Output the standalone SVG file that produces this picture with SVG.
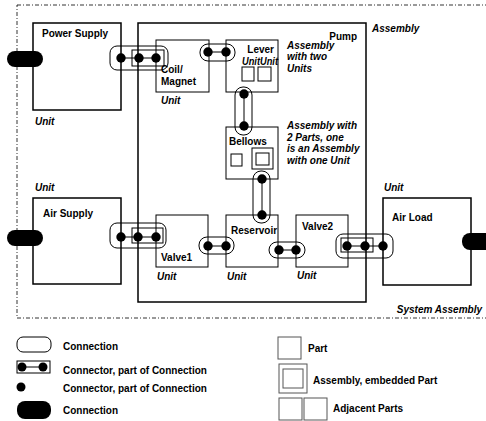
<svg xmlns="http://www.w3.org/2000/svg" width="486" height="421" viewBox="0 0 486 421">
<style>
text{font-family:"Liberation Sans",Arial,sans-serif;font-size:10px;font-weight:bold;fill:#000}
.it{font-style:italic}
.unit{fill:#fff;stroke:#000;stroke-width:1.5}
.part{fill:#fff;stroke:#000;stroke-width:1}
.conn{fill:none;stroke:#000;stroke-width:1}
.pill{fill:#000;stroke:none}
.dot{fill:#000}
.wire{stroke:#000;stroke-width:1;fill:none}
.sys{fill:none;stroke:#000;stroke-width:0.8;stroke-dasharray:4 2 1 2}
.leg{fill:#fff;stroke:#555;stroke-width:1}
</style>
<rect x="0" y="0" width="486" height="421" fill="#fff"/>
<g id="system-assembly">
<rect class="sys" x="17" y="5" width="480" height="313"/>
<text class="it" x="482" y="313" text-anchor="end">System Assembly</text>
</g>
<g id="power-supply">
<rect class="unit" x="33" y="23" width="88" height="87"/>
<text x="42" y="37">Power Supply</text>
<text class="it" x="35" y="125">Unit</text>
</g>
<g id="air-supply">
<rect class="unit" x="33" y="198" width="88" height="86"/>
<text x="43" y="217">Air Supply</text>
<text class="it" x="35" y="191">Unit</text>
</g>
<g id="air-load">
<rect class="unit" x="383" y="198" width="88" height="87"/>
<text x="392" y="221">Air Load</text>
<text class="it" x="384" y="191">Unit</text>
</g>
<g id="pump">
<rect class="unit" x="138" y="23" width="228" height="279"/>
<text x="357" y="40" text-anchor="end">Pump</text>
<text class="it" x="372" y="32">Assembly</text>
</g>
<g id="coil-magnet">
<rect class="part" x="156" y="40" width="53" height="52"/>
<text x="161" y="73">Coil/</text>
<text x="161" y="85">Magnet</text>
<text class="it" x="161" y="104">Unit</text>
</g>
<g id="lever">
<rect class="part" x="226" y="40" width="52" height="52"/>
<text x="274" y="53" text-anchor="end">Lever</text>
<text class="it" x="242" y="65" textLength="36" lengthAdjust="spacingAndGlyphs">UnitUnit</text>
<rect class="part" x="242" y="67" width="12" height="14"/>
<rect class="part" x="258" y="67" width="13" height="14"/>
<text class="it" x="287" y="49">Assembly</text>
<text class="it" x="287" y="60">with two</text>
<text class="it" x="287" y="72">Units</text>
</g>
<g id="bellows">
<rect class="part" x="226" y="127" width="52" height="52"/>
<text x="229" y="145">Bellows</text>
<rect class="part" x="231" y="154" width="11" height="12"/>
<rect class="part" x="252" y="148" width="21" height="21"/>
<rect class="part" x="256" y="153" width="13" height="12"/>
<text class="it" x="287" y="129">Assembly with</text>
<text class="it" x="287" y="141">2 Parts, one</text>
<text class="it" x="287" y="152">is an Assembly</text>
<text class="it" x="287" y="164">with one Unit</text>
</g>
<g id="valve1">
<rect class="part" x="156" y="215" width="52" height="52"/>
<text x="161" y="261">Valve1</text>
<text class="it" x="157" y="280">Unit</text>
</g>
<g id="reservoir">
<rect class="part" x="226" y="215" width="52" height="52"/>
<text x="231" y="234">Reservoir</text>
<text class="it" x="227" y="280">Unit</text>
</g>
<g id="valve2">
<rect class="part" x="296" y="215" width="52" height="52"/>
<text x="302" y="230">Valve2</text>
<text class="it" x="297" y="279">Unit</text>
</g>
<g id="connectors">
<rect class="pill" x="7" y="51" width="36" height="16" rx="8"/>
<rect class="pill" x="7" y="230" width="36" height="16" rx="8"/>
<rect class="pill" x="462" y="233" width="36" height="17" rx="8"/>
<!-- power supply - coil -->
<rect class="conn" x="110" y="46" width="58" height="24" rx="7"/>
<rect class="conn" x="132" y="50" width="32" height="16"/>
<line class="wire" x1="121" y1="58" x2="156" y2="58"/>
<circle class="dot" cx="121" cy="58" r="4.7"/>
<circle class="dot" cx="139" cy="58" r="4.7"/>
<circle class="dot" cx="156" cy="58" r="4.7"/>
<!-- coil - lever -->
<rect class="conn" x="200" y="44" width="35" height="17" rx="8"/>
<line class="wire" x1="208" y1="52" x2="226" y2="52"/>
<circle class="dot" cx="208" cy="52" r="4.7"/>
<circle class="dot" cx="226" cy="52" r="4.7"/>
<!-- lever - bellows -->
<rect class="conn" x="235" y="87" width="17" height="48" rx="8"/>
<line class="wire" x1="244" y1="94" x2="244" y2="126"/>
<circle class="dot" cx="244" cy="94" r="4.7"/>
<circle class="dot" cx="244" cy="126" r="4.7"/>
<!-- bellows - reservoir -->
<rect class="conn" x="253" y="171" width="17" height="52" rx="8"/>
<line class="wire" x1="262" y1="179" x2="262" y2="215"/>
<circle class="dot" cx="262" cy="179" r="4.7"/>
<circle class="dot" cx="262" cy="215" r="4.7"/>
<!-- air supply - valve1 -->
<rect class="conn" x="110" y="223" width="56" height="25" rx="7"/>
<rect class="conn" x="132" y="228" width="31" height="15"/>
<line class="wire" x1="121" y1="237" x2="156" y2="237"/>
<circle class="dot" cx="121" cy="237" r="4.7"/>
<circle class="dot" cx="138" cy="237" r="4.7"/>
<circle class="dot" cx="156" cy="237" r="4.7"/>
<!-- valve1 - reservoir -->
<rect class="conn" x="199" y="237" width="35" height="17" rx="8"/>
<line class="wire" x1="208" y1="246" x2="226" y2="246"/>
<circle class="dot" cx="208" cy="246" r="4.7"/>
<circle class="dot" cx="226" cy="246" r="4.7"/>
<!-- reservoir - valve2 -->
<rect class="conn" x="269" y="242" width="36" height="16" rx="8"/>
<line class="wire" x1="279" y1="250" x2="296" y2="250"/>
<circle class="dot" cx="279" cy="250" r="4.7"/>
<circle class="dot" cx="296" cy="250" r="4.7"/>
<!-- valve2 - air load -->
<rect class="conn" x="336" y="234" width="57" height="24" rx="7"/>
<rect class="conn" x="341" y="238" width="32" height="14"/>
<line class="wire" x1="347" y1="246" x2="383" y2="246"/>
<circle class="dot" cx="347" cy="246" r="4.7"/>
<circle class="dot" cx="365" cy="246" r="4.7"/>
<circle class="dot" cx="383" cy="246" r="4.7"/>
</g>
<g id="legend">
<rect class="conn" x="17" y="337" width="34" height="15" rx="6"/>
<text x="63" y="350">Connection</text>
<rect class="conn" x="17" y="361" width="33" height="12"/>
<line class="wire" x1="22" y1="367" x2="43" y2="367"/>
<circle class="dot" cx="22" cy="367" r="4.5"/>
<circle class="dot" cx="43" cy="367" r="4.5"/>
<text x="63" y="374">Connector, part of Connection</text>
<circle class="dot" cx="21" cy="387" r="4.5"/>
<text x="63" y="392">Connector, part of Connection</text>
<rect class="pill" x="17" y="401" width="34" height="18" rx="8"/>
<text x="63" y="414">Connection</text>
<rect class="leg" x="278" y="337" width="23" height="22"/>
<text x="308" y="352">Part</text>
<rect class="leg" x="279" y="364" width="28" height="29"/>
<rect class="leg" x="283" y="369" width="20" height="19"/>
<text x="313" y="384">Assembly, embedded Part</text>
<rect class="leg" x="279" y="398" width="23" height="22"/>
<rect class="leg" x="304" y="398" width="23" height="22"/>
<text x="333" y="412">Adjacent Parts</text>
</g>
</svg>
